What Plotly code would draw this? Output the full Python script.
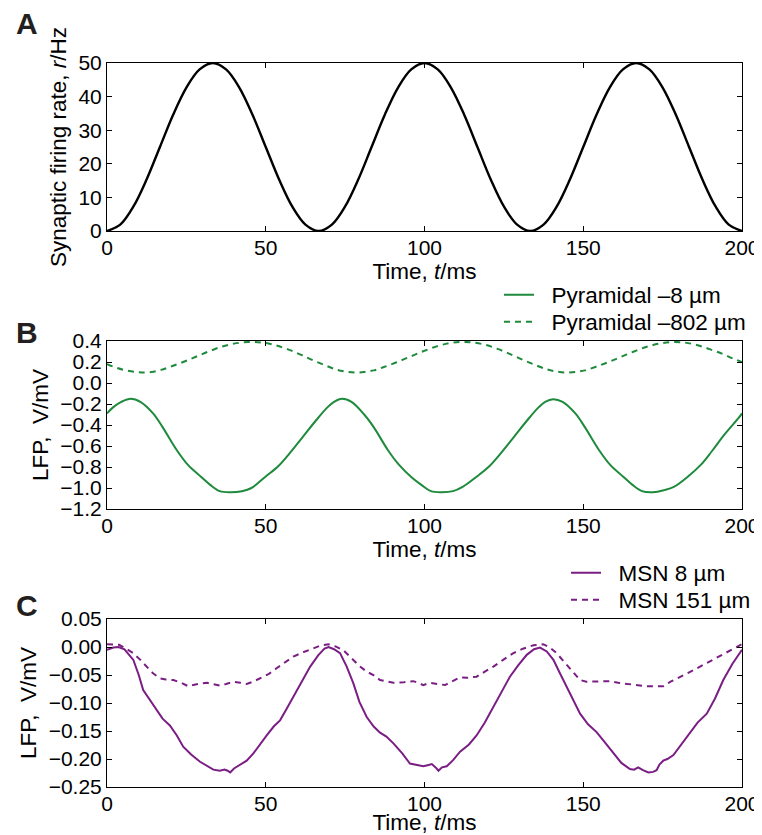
import plotly.graph_objects as go

# ---------------- Data ----------------
# Panel A: synaptic firing rate (Hz)
t_a = [0.0, 4.17, 8.33, 12.5, 16.67, 20.83, 25.0, 29.17, 33.33, 37.5, 41.67, 45.83, 50.0,
       54.17, 58.33, 62.5, 66.67, 70.83, 75.0, 79.17, 83.33, 87.5, 91.67, 95.83, 100.0,
       104.17, 108.33, 112.5, 116.67, 120.83, 125.0, 129.17, 133.33, 137.5, 141.67, 145.83,
       150.0, 154.17, 158.33, 162.5, 166.67, 170.83, 175.0, 179.17, 183.33, 187.5, 191.67,
       195.83, 200.0]
rate_a = [0, 1.9, 7.3, 15.4, 25, 34.6, 42.7, 48.1, 50, 48.1, 42.7, 34.6, 25, 15.4, 7.3, 1.9,
          0, 1.9, 7.3, 15.4, 25, 34.6, 42.7, 48.1, 50, 48.1, 42.7, 34.6, 25, 15.4, 7.3, 1.9,
          0, 1.9, 7.3, 15.4, 25, 34.6, 42.7, 48.1, 50, 48.1, 42.7, 34.6, 25, 15.4, 7.3, 1.9, 0]

# Panel B: Pyramidal -8 um (solid)
t_b1 = [0, 2, 4.5, 7.5, 10.5, 14.5, 17.5, 22, 25.5, 29.5, 32.5, 35.5, 39, 42.5, 45.5, 50,
        54, 57.5, 61.5, 66, 69.5, 71.5, 74, 77, 81, 84, 88.5, 92, 96, 99, 102, 105.5, 109,
        112, 116.5, 120.5, 124, 128, 132.5, 136, 138, 140.5, 143.5, 147.5, 150.5, 155,
        158.5, 162.5, 165.5, 168.5, 172, 175.5, 178.5, 183, 187, 190.5, 194.5, 199, 200]
lfp_b1 = [-0.29, -0.23, -0.18, -0.15, -0.18, -0.29, -0.42, -0.64, -0.78, -0.89, -0.97,
          -1.03, -1.04, -1.03, -1.00, -0.89, -0.79, -0.67, -0.52, -0.35, -0.23, -0.18,
          -0.15, -0.18, -0.30, -0.42, -0.64, -0.78, -0.90, -0.97, -1.03, -1.04, -1.03,
          -0.99, -0.89, -0.79, -0.67, -0.52, -0.35, -0.23, -0.18, -0.155, -0.18, -0.29,
          -0.42, -0.64, -0.78, -0.89, -0.97, -1.03, -1.04, -1.02, -0.99, -0.89, -0.78,
          -0.65, -0.49, -0.33, -0.29]

# Panel B: Pyramidal -802 um (dashed)
t_b2 = [0, 3, 6, 9, 11, 14, 17, 20, 24, 28, 32, 36, 40, 44.5, 49, 53, 57, 61, 65, 69, 72,
        75, 78, 81, 84, 87, 91, 95, 99, 103, 107, 111, 115, 119, 123, 127, 131, 135, 138.5,
        141.5, 144.5, 147.5, 150.5, 154, 158, 162, 166, 170, 174, 178, 182, 186, 190, 194,
        197, 200]
lfp_b2 = [0.18, 0.145, 0.12, 0.105, 0.10, 0.105, 0.125, 0.155, 0.20, 0.25, 0.30, 0.345,
          0.375, 0.39, 0.385, 0.36, 0.32, 0.27, 0.215, 0.165, 0.13, 0.11, 0.10, 0.105, 0.12,
          0.15, 0.195, 0.245, 0.295, 0.34, 0.375, 0.39, 0.387, 0.365, 0.325, 0.275, 0.22,
          0.17, 0.13, 0.11, 0.10, 0.105, 0.12, 0.155, 0.20, 0.25, 0.30, 0.345, 0.375, 0.39,
          0.385, 0.36, 0.32, 0.275, 0.235, 0.20]

# Panel C: MSN 8 um (solid)
t_c1 = [0, 2, 3.6, 5.5, 8.3, 10, 11.4, 13.5, 15.6, 17.5, 19.8, 22, 24, 26.5, 29.3, 31.5,
        33.5, 35.5, 37, 38, 38.8, 40, 41.9, 44, 46.1, 48, 50.3, 52.5, 54.5, 56.5, 58.7,
        61.5, 64, 66.5, 68.5, 69.8, 71.5, 73.4, 75.5, 77.6, 79.5, 81.8, 84, 86, 88, 90.2,
        93, 95.4, 97.5, 99.6, 101, 102.3, 103.5, 104.4, 105.5, 107, 109, 111.2, 114, 116.4,
        119, 121.7, 124, 126.9, 129.5, 132.2, 134.5, 136.4, 138.5, 140.6, 142.5, 144.8,
        147, 149, 151.5, 154.2, 156.5, 159.5, 162, 164.7, 166, 167.3, 168.8, 170.5, 172,
        173.1, 174, 175.2, 176.5, 178.4, 181, 183.6, 186, 188.9, 191.5, 194.1, 197, 200]
lfp_c1 = [-0.005, -0.001, 0.0, -0.004, -0.023, -0.05, -0.077, -0.095, -0.113, -0.128,
          -0.14, -0.158, -0.178, -0.192, -0.205, -0.213, -0.219, -0.221, -0.219, -0.221,
          -0.224, -0.217, -0.211, -0.203, -0.19, -0.175, -0.158, -0.142, -0.131, -0.111,
          -0.089, -0.062, -0.035, -0.015, -0.003, 0.0, -0.004, -0.011, -0.035, -0.065,
          -0.098, -0.125, -0.142, -0.153, -0.16, -0.172, -0.19, -0.208, -0.211, -0.213,
          -0.211, -0.209, -0.215, -0.221, -0.215, -0.213, -0.202, -0.187, -0.174, -0.158,
          -0.135, -0.107, -0.082, -0.053, -0.033, -0.014, -0.004, -0.001, -0.008, -0.023,
          -0.045, -0.071, -0.098, -0.119, -0.138, -0.152, -0.168, -0.19, -0.207, -0.218,
          -0.219, -0.215, -0.22, -0.224, -0.223, -0.22, -0.21, -0.203, -0.2, -0.193,
          -0.173, -0.152, -0.135, -0.119, -0.092, -0.059, -0.03, -0.005]

# Panel C: MSN 151 um (dashed)
t_c2 = [0, 2, 3.8, 6, 8.3, 10.5, 12.5, 14.5, 16.7, 18.5, 20.9, 23, 25.6, 27.5, 29.3, 31.5,
        33.5, 35.6, 37.5, 39.8, 42, 44, 46, 48.2, 51, 53.4, 56, 58.7, 61.5, 64, 67, 69.7,
        72, 74.5, 77, 79.7, 81.8, 83.9, 86, 88, 90.2, 93.5, 96.5, 98, 99.6, 101.7, 104,
        106.5, 108.5, 111.2, 113.5, 116.4, 119, 121.7, 125, 128, 131, 134.3, 137.4, 139.5,
        141.6, 143.5, 145.8, 147.5, 149, 151, 153.1, 155.5, 158.4, 161, 163.6, 166.5,
        169.9, 172.5, 175.2, 177.5, 180.5, 183.5, 186.8, 190, 193, 196.5, 200]
lfp_c2 = [0.005, 0.005, 0.004, -0.003, -0.011, -0.023, -0.035, -0.047, -0.056, -0.058,
          -0.059, -0.063, -0.07, -0.067, -0.065, -0.064, -0.066, -0.069, -0.066, -0.062,
          -0.064, -0.066, -0.062, -0.056, -0.048, -0.038, -0.027, -0.017, -0.01, -0.004,
          0.002, 0.005, 0.001, -0.006, -0.02, -0.035, -0.044, -0.05, -0.059, -0.062,
          -0.064, -0.063, -0.061, -0.064, -0.068, -0.064, -0.066, -0.068, -0.062, -0.054,
          -0.055, -0.053, -0.044, -0.035, -0.022, -0.011, -0.003, 0.003, 0.005, -0.001,
          -0.011, -0.023, -0.038, -0.05, -0.059, -0.062, -0.062, -0.061, -0.061, -0.064,
          -0.066, -0.067, -0.07, -0.07, -0.07, -0.062, -0.054, -0.045, -0.035, -0.025,
          -0.016, -0.006, 0.005]

x_ticks = [0, 50, 100, 150, 200]
y_ticks_a = [0, 10, 20, 30, 40, 50]
y_ticks_b = [0.4, 0.2, 0.0, -0.2, -0.4, -0.6, -0.8, -1.0, -1.2]
y_ticks_c = [0.05, 0.0, -0.05, -0.10, -0.15, -0.20, -0.25]

# ---------------- Style ----------------
FONT = "Arial, Liberation Sans, sans-serif"
GREEN = "#1e8a3c"
PURPLE = "#7a1e84"
OFF = 8                     # page body margin offset
W, H = 762 - OFF, 835 - OFF
L, R = 107 - OFF, 20
PW = W - L - R              # plot width in px
TICK_FS, TITLE_FS, LEG_FS = 21, 22.5, 22.5
PAD = "\u00a0\u00a0"        # gap between legend sample and its text

fig = go.Figure()

fig.add_trace(go.Scatter(x=t_a, y=rate_a, mode="lines", line=dict(color="black", width=2.4, shape="spline"),
                         showlegend=False, xaxis="x", yaxis="y"))
fig.add_trace(go.Scatter(x=t_b1, y=lfp_b1, mode="lines", name=PAD + "Pyramidal \u20138 \u00b5m",
                         line=dict(color=GREEN, width=2, shape="spline"),
                         xaxis="x2", yaxis="y2", legend="legend"))
fig.add_trace(go.Scatter(x=t_b2, y=lfp_b2, mode="lines", name=PAD + "Pyramidal \u2013802 \u00b5m",
                         line=dict(color=GREEN, width=2, dash="6px,5px", shape="spline"),
                         xaxis="x2", yaxis="y2", legend="legend2"))
fig.add_trace(go.Scatter(x=t_c1, y=lfp_c1, mode="lines", name=PAD + "MSN 8 \u00b5m",
                         line=dict(color=PURPLE, width=2),
                         xaxis="x3", yaxis="y3", legend="legend3"))
fig.add_trace(go.Scatter(x=t_c2, y=lfp_c2, mode="lines", name=PAD + "MSN 151 \u00b5m",
                         line=dict(color=PURPLE, width=2, dash="6px,5px"),
                         xaxis="x3", yaxis="y3", legend="legend4"))


def py(px):
    """target page pixel (from top) -> paper fraction"""
    return 1 - (px - OFF) / H


def px_x(px):
    return (px - OFF - L) / PW


def dom(top_px, bot_px):
    return [py(bot_px), py(top_px)]


common_x = dict(range=[0, 200], tickvals=x_ticks, ticks="inside", ticklen=5, tickcolor="black",
                showline=True, linecolor="black", linewidth=1, mirror="allticks",
                showgrid=False, zeroline=False, tickfont=dict(size=TICK_FS, color="black"),
                domain=[0, 1], automargin=False, ticklabelstandoff=-2)
common_y = dict(ticks="inside", ticklen=5, tickcolor="black", showline=True, linecolor="black",
                linewidth=1, mirror="allticks", showgrid=False, zeroline=False,
                tickfont=dict(size=TICK_FS, color="black"), automargin=False)

xtitle = dict(text="Time, <i>t</i>/ms", font=dict(size=TITLE_FS, color="black"), standoff=0)


def leg(x_px, yc_px):
    return dict(x=px_x(x_px), xanchor="left", y=py(yc_px), yanchor="middle",
                bgcolor="rgba(0,0,0,0)", font=dict(size=LEG_FS, color="black"),
                itemwidth=30, borderwidth=0)


fig.update_layout(
    width=W, height=H,
    margin=dict(l=L, r=R, t=0, b=0, autoexpand=False),
    paper_bgcolor="white", plot_bgcolor="white",
    font=dict(family=FONT, color="black"),
    xaxis=dict(**common_x, anchor="y", title=xtitle),
    yaxis=dict(**common_y, domain=dom(63, 231), range=[0, 50], tickvals=y_ticks_a,
               title=dict(text="Synaptic firing rate, <i>r</i>/Hz", font=dict(size=TITLE_FS), standoff=5)),
    xaxis2=dict(**common_x, anchor="y2", title=xtitle),
    yaxis2=dict(**common_y, domain=dom(341, 509), range=[-1.2, 0.4], tickvals=y_ticks_b,
                ticktext=[("\u2212" if v < 0 else "") + f"{abs(v):.1f}" for v in y_ticks_b],
                title=dict(text="LFP,  V/mV", font=dict(size=TITLE_FS), standoff=5)),
    xaxis3=dict(**common_x, anchor="y3", title=xtitle),
    yaxis3=dict(**common_y, domain=dom(619, 787), range=[-0.25, 0.05], tickvals=y_ticks_c,
                ticktext=[("\u2212" if v < 0 else "") + f"{abs(v):.2f}" for v in y_ticks_c],
                title=dict(text="LFP,  V/mV", font=dict(size=TITLE_FS), standoff=5)),
    legend=leg(499, 295),
    legend2=leg(499, 322),
    legend3=leg(566, 573),
    legend4=leg(566, 600),
    showlegend=True,
)

for letter, ypx in [("A", 23), ("B", 332), ("C", 605)]:
    fig.add_annotation(text=f"<b>{letter}</b>", xref="paper", yref="paper",
                       x=px_x(27), y=py(ypx), xanchor="center", yanchor="middle",
                       showarrow=False, font=dict(size=30, color="#231f20", family=FONT))

fig.write_html("out.html")
